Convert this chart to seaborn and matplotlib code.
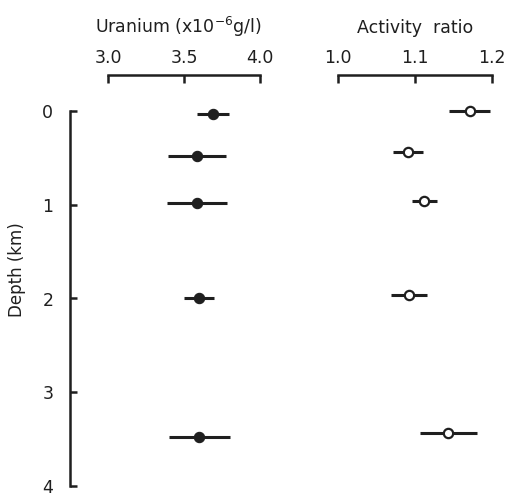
import matplotlib
matplotlib.use("Agg")
import matplotlib.pyplot as plt
import seaborn as sns
import pandas as pd

# Data
u_depth = [0.03, 0.48, 0.98, 2.0, 3.48]
u_value = [3.69, 3.585, 3.585, 3.60, 3.60]
u_err = [0.105, 0.19, 0.20, 0.10, 0.20]

a_depth = [0.0, 0.44, 0.96, 1.96, 3.44]
a_value = [1.171, 1.091, 1.112, 1.092, 1.143]
a_err = [0.027, 0.020, 0.016, 0.023, 0.037]

u_ticks = [3.0, 3.5, 4.0]
u_ticklabels = ["3.0", "3.5", "4.0"]
a_ticks = [1.0, 1.1, 1.2]
a_ticklabels = ["1.0", "1.1", "1.2"]
depth_ticks = [0, 1, 2, 3, 4]

sns.set_style("ticks")
plt.rcParams["font.family"] = ["DejaVu Sans"]
ink = "#1f1f1f"

W, H = 508, 498
fig = plt.figure(figsize=(W / 100, H / 100), dpi=100)

def frac(l, r, t, b):
    return [l / W, 1 - b / H, (r - l) / W, (b - t) / H]

top, bottom = 75, 498
ylim = (4.128, -0.384)

ax1 = fig.add_axes(frac(70, 270, top, bottom))
ax2 = fig.add_axes(frac(338, 492, top, bottom))

du = pd.DataFrame({"depth": u_depth, "value": u_value, "err": u_err})
da = pd.DataFrame({"depth": a_depth, "value": a_value, "err": a_err})

ax1.errorbar(du["value"], du["depth"], xerr=du["err"], fmt="none",
             ecolor=ink, elinewidth=2.2, capsize=0, zorder=2)
sns.scatterplot(data=du, x="value", y="depth", ax=ax1, color=ink, s=55,
                edgecolor=ink, linewidth=0.8, zorder=3)
ax2.errorbar(da["value"], da["depth"], xerr=da["err"], fmt="none",
             ecolor=ink, elinewidth=2.2, capsize=0, zorder=2)
sns.scatterplot(data=da, x="value", y="depth", ax=ax2, color="white", s=45,
                edgecolor=ink, linewidth=1.6, zorder=3)

ax1.set_xlim(2.75, 4.066)
ax2.set_xlim(1.0, 1.2)
for ax in (ax1, ax2):
    ax.set_ylim(*ylim)
    ax.set_xlabel("")
    ax.set_ylabel("")
    ax.xaxis.tick_top()
    ax.spines["bottom"].set_visible(False)
    ax.spines["right"].set_visible(False)
    ax.spines["top"].set_linewidth(1.8)
    ax.spines["top"].set_color(ink)
    ax.tick_params(axis="x", direction="in", length=6, width=1.8, color=ink,
                   pad=6, labelsize=12.5, labelcolor=ink)
    ax.patch.set_alpha(0)

ax1.spines["top"].set_bounds(3.0, 4.0)
ax1.set_xticks(u_ticks)
ax1.set_xticklabels(u_ticklabels)
ax2.spines["top"].set_bounds(1.0, 1.2)
ax2.set_xticks(a_ticks)
ax2.set_xticklabels(a_ticklabels)

ax1.spines["left"].set_bounds(0, 4)
ax1.spines["left"].set_linewidth(1.8)
ax1.spines["left"].set_color(ink)
ax1.set_yticks(depth_ticks)
ax1.set_yticklabels([str(d) for d in depth_ticks])
ax1.tick_params(axis="y", direction="in", length=5, width=1.8, color=ink,
                pad=12, labelsize=12.5, labelcolor=ink)
ax1.set_ylabel("Depth (km)", fontsize=12, color=ink, labelpad=10)
ax1.yaxis.set_label_coords(-(70 - 26) / 200, 1 - (270 - top) / (bottom - top))

ax2.spines["left"].set_visible(False)
ax2.set_yticks([])

ax1.set_title(r"Uranium (x10$^{-6}$g/l)", fontsize=12.5, color=ink, pad=30,
              x=(178 - 70) / 200)
ax2.set_title("Activity  ratio", fontsize=12.5, color=ink, pad=30)

fig.savefig("out.png", dpi=100)
